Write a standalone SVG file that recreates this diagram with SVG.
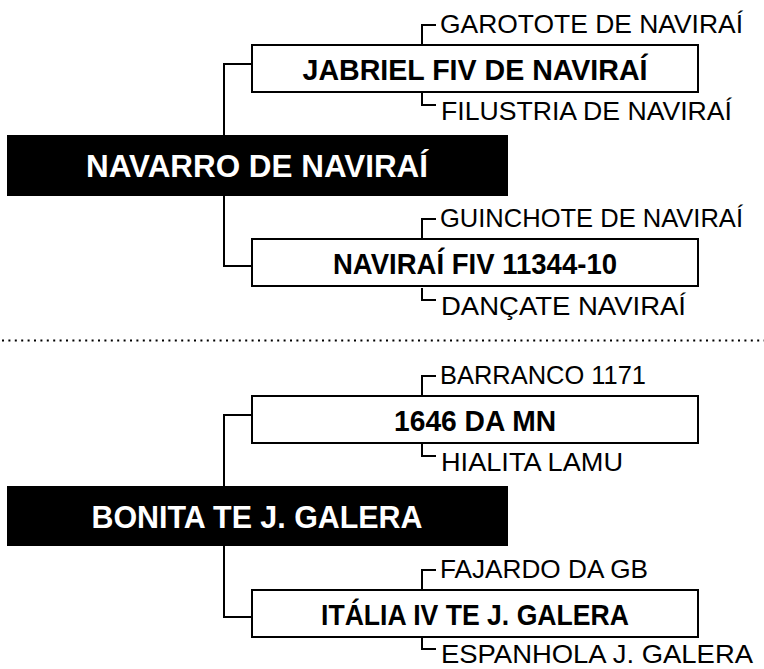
<svg xmlns="http://www.w3.org/2000/svg" width="764" height="669" viewBox="0 0 764 669">
<style>
.bg{fill:#fff}
.box{fill:#fff;stroke:#000;stroke-width:2}
.blk{fill:#000}
.ln{fill:none;stroke:#000;stroke-width:2}
.lbl{font-family:"Liberation Sans",Arial,sans-serif;font-size:26.5px;fill:#000}
.nm{font-family:"Liberation Sans",Arial,sans-serif;font-size:30px;font-weight:bold;fill:#000;text-anchor:middle}
.rt{font-family:"Liberation Sans",Arial,sans-serif;font-size:32px;font-weight:bold;fill:#fff;text-anchor:middle}
</style>
<rect class="bg" x="0" y="0" width="764" height="669"/>
<g id="connectors">
<path class="ln" d="M251 64H224V266H251"/>
<path class="ln" d="M251 415H224V617H251"/>
<path class="ln" d="M436 25H422V44"/>
<path class="ln" d="M422 93V105H436"/>
<path class="ln" d="M436 219H422V238"/>
<path class="ln" d="M422 288V300H436"/>
<path class="ln" d="M436 376H422V395"/>
<path class="ln" d="M422 444V456H436"/>
<path class="ln" d="M436 570H422V589"/>
<path class="ln" d="M422 638V649H436"/>
</g>
<line x1="2" y1="340.5" x2="764" y2="340.5" stroke="#000" stroke-width="2" stroke-dasharray="2 4.4"/>
<g id="navarro">
<rect class="blk" x="7" y="135" width="501" height="61"/>
<text class="rt" x="257" y="177" textLength="342" lengthAdjust="spacingAndGlyphs">NAVARRO DE NAVIRAÍ</text>
</g>
<g id="jabriel">
<rect class="box" x="252" y="45" width="446" height="47"/>
<text class="nm" x="475" y="80" textLength="345" lengthAdjust="spacingAndGlyphs">JABRIEL FIV DE NAVIRAÍ</text>
</g>
<g id="garotote"><text class="lbl" x="440" y="33" textLength="303" lengthAdjust="spacingAndGlyphs">GAROTOTE DE NAVIRAÍ</text></g>
<g id="filustria"><text class="lbl" x="441" y="120" textLength="291" lengthAdjust="spacingAndGlyphs">FILUSTRIA DE NAVIRAÍ</text></g>
<g id="navirai-fiv">
<rect class="box" x="252" y="239" width="446" height="47"/>
<text class="nm" x="475" y="274" textLength="284" lengthAdjust="spacingAndGlyphs">NAVIRAÍ FIV 11344-10</text>
</g>
<g id="guinchote"><text class="lbl" x="440" y="227" textLength="303" lengthAdjust="spacingAndGlyphs">GUINCHOTE DE NAVIRAÍ</text></g>
<g id="dancate"><text class="lbl" x="441" y="315" textLength="245" lengthAdjust="spacingAndGlyphs">DANÇATE NAVIRAÍ</text></g>
<g id="bonita">
<rect class="blk" x="7" y="486" width="501" height="60"/>
<text class="rt" x="257" y="528" textLength="331" lengthAdjust="spacingAndGlyphs">BONITA TE J. GALERA</text>
</g>
<g id="mn1646">
<rect class="box" x="252" y="396" width="446" height="47"/>
<text class="nm" x="475" y="431" textLength="162" lengthAdjust="spacingAndGlyphs">1646 DA MN</text>
</g>
<g id="barranco"><text class="lbl" x="440" y="384" textLength="206" lengthAdjust="spacingAndGlyphs">BARRANCO 1171</text></g>
<g id="hialita"><text class="lbl" x="441" y="471" textLength="182" lengthAdjust="spacingAndGlyphs">HIALITA LAMU</text></g>
<g id="italia">
<rect class="box" x="252" y="590" width="446" height="47"/>
<text class="nm" x="475" y="625" textLength="308" lengthAdjust="spacingAndGlyphs">ITÁLIA IV TE J. GALERA</text>
</g>
<g id="fajardo"><text class="lbl" x="440" y="578" textLength="208" lengthAdjust="spacingAndGlyphs">FAJARDO DA GB</text></g>
<g id="espanhola"><text class="lbl" x="441" y="663" textLength="312" lengthAdjust="spacingAndGlyphs">ESPANHOLA J. GALERA</text></g>
</svg>
